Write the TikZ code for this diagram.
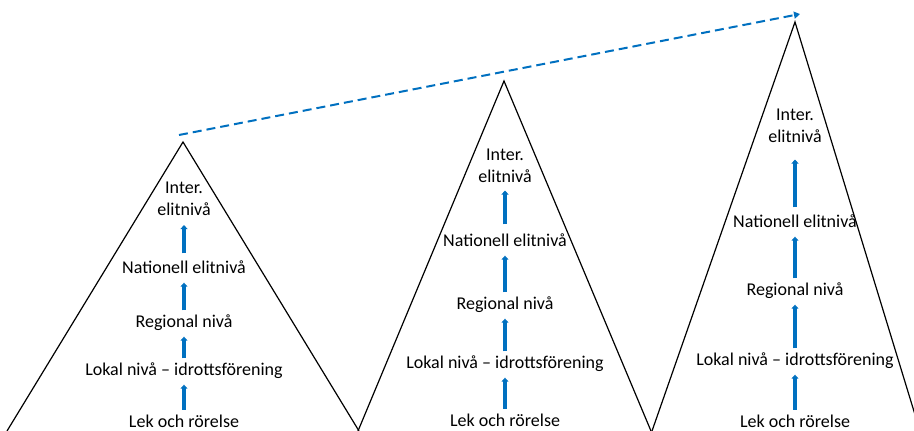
\documentclass[tikz,border=0pt]{standalone}
\usepackage{fontspec}
\setmainfont{Carlito}
\usetikzlibrary{arrows.meta}
\definecolor{arrblue}{HTML}{0070C0}
\tikzset{
  lvl/.style={inner sep=0pt, yshift=-1.5pt, text height=12pt, text depth=4pt, font=\fontsize{18pt}{22pt}\selectfont},
  baselvl/.style={lvl, text depth=1pt},
  toplvl/.style={inner sep=0pt, align=center, font=\fontsize{18pt}{22pt}\selectfont},
  uparrow/.style={draw=arrblue, line width=4pt, -{Triangle[length=4pt,width=7pt]}, shorten <=5pt, shorten >=5pt},
  mountain/.style={draw=black, line width=1.2pt, line join=miter},
  trend/.style={draw=arrblue, line width=2pt, dash pattern=on 9pt off 5pt, -{Triangle[length=6pt,width=7pt]}}
}
\begin{document}
\begin{tikzpicture}[x=1pt,y=-1pt]
\useasboundingbox (0,0) rectangle (914,431);
\begin{scope}
\clip (0,0) rectangle (914,431);
% mountains
\draw[mountain] (7,431) -- (183,142) -- (359,431);
\draw[mountain] (358,431) -- (504,81) -- (651,431);
\draw[mountain] (652,431) -- (795,22) -- (920,431);

% pyramid 1
\node[toplvl] (int1) at (184,199) {Inter.\\elitnivå};
\node[lvl] (nat1) at (184,268) {Nationell elitnivå};
\node[lvl] (reg1) at (184,322) {Regional nivå};
\node[lvl] (lok1) at (184,370) {Lokal nivå – idrottsförening};
\node[baselvl] (lek1) at (184,420) {Lek och rörelse};
\draw[uparrow] (lek1) -- (lok1);
\draw[uparrow] (lok1) -- (reg1);
\draw[uparrow] (reg1) -- (nat1);
\draw[uparrow, shorten <=8pt, shorten >=9pt] (nat1) -- (int1);

% pyramid 2
\node[toplvl] (int2) at (505,165.5) {Inter.\\elitnivå};
\node[lvl] (nat2) at (505,241) {Nationell elitnivå};
\node[lvl] (reg2) at (505,304) {Regional nivå};
\node[lvl] (lok2) at (505,363) {Lokal nivå – idrottsförening};
\node[baselvl] (lek2) at (505,419) {Lek och rörelse};
\draw[uparrow] (lek2) -- (lok2);
\draw[uparrow] (lok2) -- (reg2);
\draw[uparrow] (reg2) -- (nat2);
\draw[uparrow, shorten <=10pt, shorten >=8pt] (nat2) -- (int2);

% pyramid 3
\node[toplvl] (int3) at (795,125.5) {Inter.\\elitnivå};
\node[lvl] (nat3) at (795,222) {Nationell elitnivå};
\node[lvl] (reg3) at (795,290) {Regional nivå};
\node[lvl] (lok3) at (795,360) {Lokal nivå – idrottsförening};
\node[baselvl] (lek3) at (795,420) {Lek och rörelse};
\draw[uparrow] (lek3) -- (lok3);
\draw[uparrow] (lok3) -- (reg3);
\draw[uparrow] (reg3) -- (nat3);
\draw[uparrow, shorten <=8pt, shorten >=17pt] (nat3) -- (int3);

% trend
\coordinate (tstart) at (179,135);
\coordinate (tend) at (800,14);
\draw[trend] (tstart) -- (tend);
\end{scope}
\end{tikzpicture}
\end{document}
